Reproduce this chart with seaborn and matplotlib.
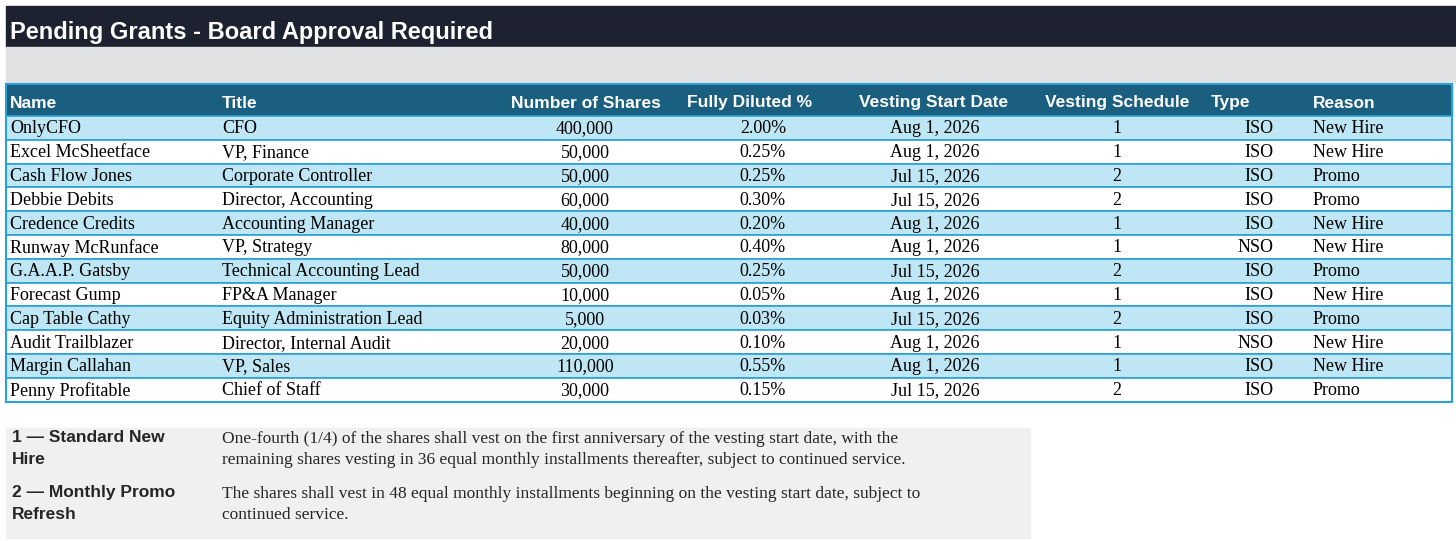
import numpy as np
import matplotlib
matplotlib.use("Agg")
import matplotlib.pyplot as plt
import seaborn as sns
from matplotlib.patches import Rectangle

names = ["OnlyCFO", "Excel McSheetface", "Cash Flow Jones", "Debbie Debits", "Credence Credits",
         "Runway McRunface", "G.A.A.P. Gatsby", "Forecast Gump", "Cap Table Cathy",
         "Audit Trailblazer", "Margin Callahan", "Penny Profitable"]
titles = ["CFO", "VP, Finance", "Corporate Controller", "Director, Accounting", "Accounting Manager",
          "VP, Strategy", "Technical Accounting Lead", "FP&A Manager", "Equity Administration Lead",
          "Director, Internal Audit", "VP, Sales", "Chief of Staff"]
shares = [400000, 50000, 50000, 60000, 40000, 80000, 50000, 10000, 5000, 20000, 110000, 30000]
diluted = [2.00, 0.25, 0.25, 0.30, 0.20, 0.40, 0.25, 0.05, 0.03, 0.10, 0.55, 0.15]
start_dates = ["Aug 1, 2026", "Aug 1, 2026", "Jul 15, 2026", "Jul 15, 2026", "Aug 1, 2026",
               "Aug 1, 2026", "Jul 15, 2026", "Aug 1, 2026", "Jul 15, 2026", "Aug 1, 2026",
               "Aug 1, 2026", "Jul 15, 2026"]
schedules = [1, 1, 2, 2, 1, 1, 2, 1, 2, 1, 1, 2]
types = ["ISO", "ISO", "ISO", "ISO", "ISO", "NSO", "ISO", "ISO", "ISO", "NSO", "ISO", "ISO"]
reasons = ["New Hire", "New Hire", "Promo", "Promo", "New Hire", "New Hire", "Promo",
           "New Hire", "Promo", "New Hire", "New Hire", "Promo"]
headers = ["Name", "Title", "Number of Shares", "Fully Diluted %", "Vesting Start Date",
           "Vesting Schedule", "Type", "Reason"]
notes = [("1 — Standard New\nHire",
          "One-fourth (1/4) of the shares shall vest on the first anniversary of the vesting start date, with the\n"
          "remaining shares vesting in 36 equal monthly installments thereafter, subject to continued service."),
         ("2 — Monthly Promo\nRefresh",
          "The shares shall vest in 48 equal monthly installments beginning on the vesting start date, subject to\n"
          "continued service.")]

sns.set_theme(style="white")
SANS = ["Liberation Sans", "DejaVu Sans"]
SERIF = ["Liberation Serif", "DejaVu Serif"]

fig = plt.figure(figsize=(14.56, 5.41), dpi=100)
ax = fig.add_axes([0, 0, 1, 1])
ax.set_xlim(0, 1456)
ax.set_ylim(541, 0)
ax.axis("off")

# title bar and grey band
ax.add_patch(Rectangle((6, 6), 1450, 41, color="#1e2230"))
ax.text(10, 33, "Pending Grants - Board Approval Required", color="white", fontsize=17,
        fontweight="bold", family=SANS, va="center")
ax.add_patch(Rectangle((6, 47), 1450, 35, color="#e0e1e3"))

# header
top, hh, rh = 84, 32, 23.8
ax.add_patch(Rectangle((6, top), 1446, hh, color="#1a5f80"))
hdr_pos = [(10, "left"), (222, "left"), (661, "right"), (812, "right"), (1008, "right"),
           (1189, "right"), (1211, "left"), (1313, "left")]
for h, (x, ha) in zip(headers, hdr_pos):
    ax.text(x, top + 19, h, color="white", fontsize=12.5, fontweight="bold", family=SANS,
            ha=ha, va="center")

# row stripes
idx = np.arange(len(names))
y0 = top + hh
centers = y0 + idx * rh + rh / 2
colors = ["#bfe6f4" if i % 2 == 0 else "white" for i in idx]
ax.barh(centers, 1446, height=rh, left=6, color=colors, edgecolor="#2aa0d8", linewidth=1.2)
ax.add_patch(Rectangle((6, top), 1446, hh + rh * len(names), fill=False, edgecolor="#2aa0d8", lw=1.5))

for i in idx:
    y = centers[i] + 1
    kw = dict(fontsize=13, family=SERIF, va="center", color="black")
    ax.text(10, y, names[i], **kw)
    ax.text(222, y, titles[i], **kw)
    ax.text(585, y, f"{shares[i]:,}", ha="center", **kw)
    ax.text(786, y, f"{diluted[i]:.2f}%", ha="right", **kw)
    ax.text(935, y, start_dates[i], ha="center", **kw)
    ax.text(1117, y, str(schedules[i]), ha="center", **kw)
    ax.text(1274, y, types[i], ha="right", **kw)
    ax.text(1313, y, reasons[i], **kw)

# footnotes
ax.add_patch(Rectangle((6, 428), 1024, 110, color="#f0f0f0"))
for k, (lab, txt) in enumerate(notes):
    ybase = 430 + k * 55
    ax.text(12, ybase, lab, fontsize=12.5, fontweight="bold", family=SANS, va="top",
            linespacing=1.55)
    ax.text(222, ybase + 1, txt, fontsize=12.5, family=SERIF, va="top", linespacing=1.45)

fig.savefig("out.png", dpi=100, facecolor="white")
